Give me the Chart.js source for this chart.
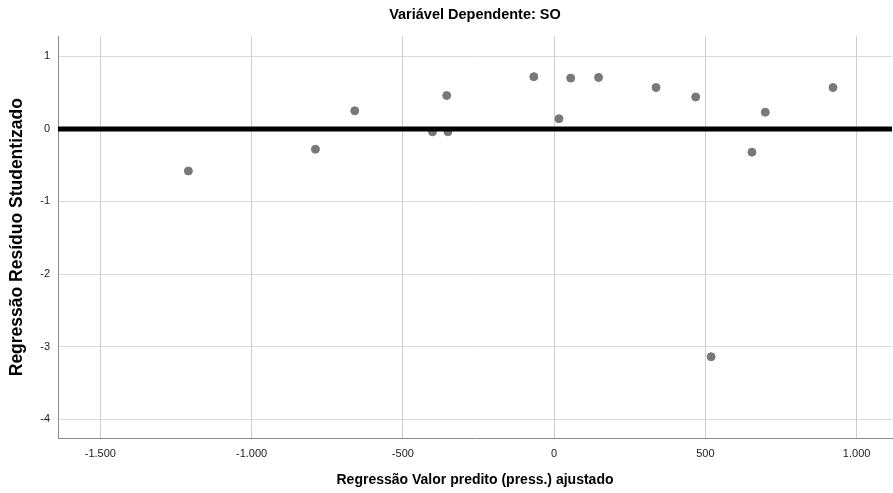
<!DOCTYPE html>
<html>
<head>
<meta charset="utf-8">
<script src="https://cdn.jsdelivr.net/npm/chart.js@4/dist/chart.umd.min.js"></script>
<style>
  html, body { margin: 0; padding: 0; background: #fff; overflow: hidden; }
  canvas { display: block; }
</style>
</head>
<body>
<canvas id="residuos" width="893" height="493"></canvas>
<script>
// Valores
const predito = [-1209, -789, -659, -402, -351, -355, -67, 55, 147, 16, 337, 468, 698, 654, 519, 922];
const residuo = [-0.58, -0.28, 0.25, -0.04, -0.04, 0.46, 0.72, 0.70, 0.71, 0.14, 0.57, 0.44, 0.23, -0.32, -3.14, 0.57];
const xTicks = [-1500, -1000, -500, 0, 500, 1000];
const yTicks = [-4, -3, -2, -1, 0, 1];
const linhaRef = 0;

const fonte = "Arial, 'Liberation Sans', sans-serif";

// 1500 -> 1.500
const formata = v => {
    const s = Math.abs(v).toString().replace(/\B(?=(\d{3})+(?!\d))/g, '.');
    return (v < 0 ? '-' : '') + s;
}

// Linha de referencia em y = 0 desenhada sobre os pontos
const refPlugin = {
    id: 'refLine',
    afterDatasetsDraw(chart) {
        const {ctx, chartArea, scales} = chart;
        const y = scales.y.getPixelForValue(linhaRef);
        ctx.save();
        ctx.strokeStyle = '#000';
        ctx.lineWidth = 5;
        ctx.beginPath();
        ctx.moveTo(chartArea.left, y);
        ctx.lineTo(chartArea.right, y);
        ctx.stroke();
        ctx.restore();
    }
}

const ctx = document.getElementById('residuos');
new Chart(ctx, {
    type: 'scatter',
    data: {
        datasets: [{
            label: 'Residuo',
            data: predito.map((x, i) => ({x: x, y: residuo[i]})),
            backgroundColor: '#787878',
            borderColor: '#787878',
            pointRadius: 4,
            pointHoverRadius: 4
        }]
    },
    options: {
        responsive: false,
        animation: false,
        layout: {padding: {right: 1}, autoPadding: false},
        plugins: {
            legend: {display: false},
            tooltip: {enabled: false},
            title: {
                display: true,
                fullSize: false,
                text: 'Variável Dependente: SO',
                color: '#000',
                font: {family: fonte, size: 14.5, weight: 'bold'},
                padding: {top: 6, bottom: 13}
            }
        },
        scales: {
            x: {
                type: 'linear',
                min: -1640,
                max: 1117,
                afterBuildTicks: scale => { scale.ticks = xTicks.map(v => ({value: v})); },
                afterFit: scale => {
                    scale.height = 55;
                    scale.paddingLeft = 0;
                    scale.paddingRight = 0;
                },
                grid: {color: '#cccccc', drawTicks: false},
                border: {color: '#8c8c8c', width: 1},
                ticks: {
                    color: '#222',
                    font: {family: fonte, size: 11},
                    padding: 9,
                    maxRotation: 0,
                    callback: v => formata(v)
                },
                title: {
                    display: true,
                    text: 'Regressão Valor predito (press.) ajustado',
                    color: '#000',
                    font: {family: fonte, size: 14, weight: 'bold'},
                    padding: {top: 4, bottom: 4}
                }
            },
            y: {
                type: 'linear',
                min: -4.26,
                max: 1.275,
                afterBuildTicks: scale => { scale.ticks = yTicks.map(v => ({value: v})); },
                afterFit: scale => {
                    scale.width = 58;
                    scale.paddingTop = 0;
                    scale.paddingBottom = 0;
                },
                grid: {color: '#dadada', drawTicks: false},
                border: {color: '#8c8c8c', width: 1},
                ticks: {
                    color: '#222',
                    font: {family: fonte, size: 11},
                    padding: 8
                },
                title: {
                    display: true,
                    text: 'Regressão Resíduo Studentizado',
                    color: '#000',
                    font: {family: fonte, size: 17.5, weight: 'bold'},
                    padding: {top: 7, bottom: 4}
                }
            }
        }
    },
    plugins: [refPlugin]
});
</script>
</body>
</html>
